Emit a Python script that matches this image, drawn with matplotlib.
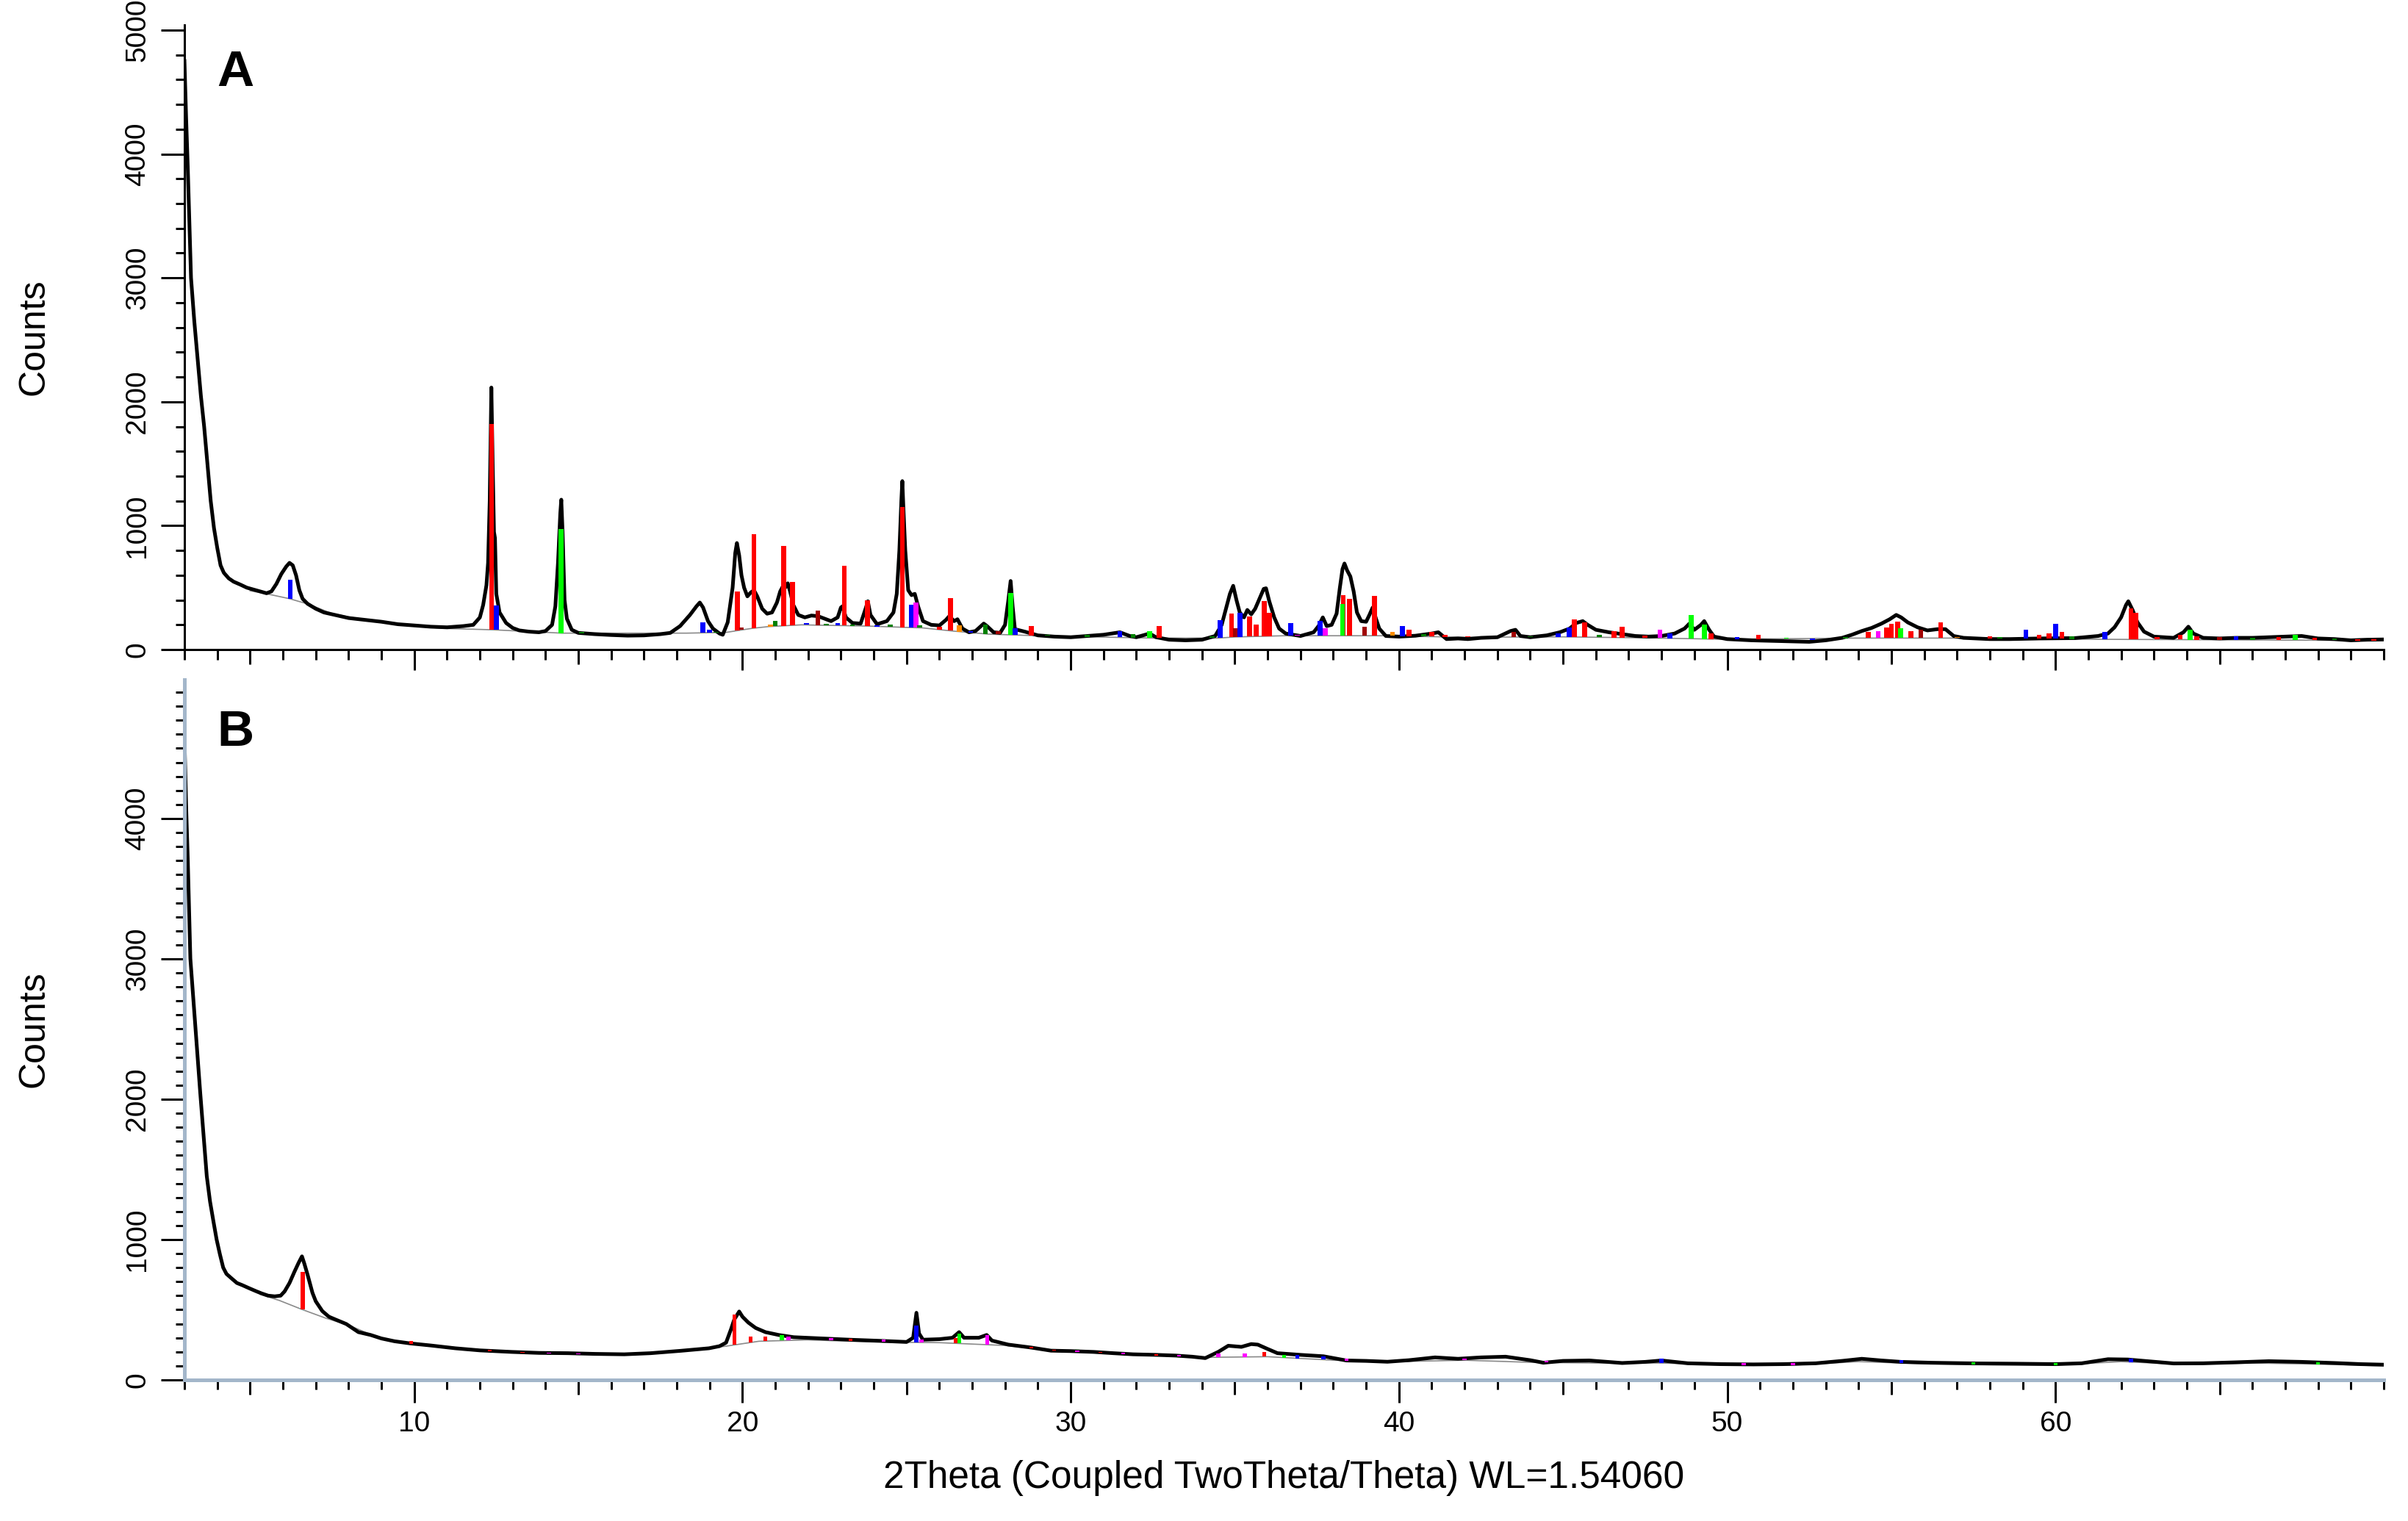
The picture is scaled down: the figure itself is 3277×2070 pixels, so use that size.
import numpy as np
import matplotlib
matplotlib.use("Agg")
import matplotlib.pyplot as plt

plt.rcParams['font.family'] = ['Liberation Sans', 'DejaVu Sans']

# --- Colours of the reference phase sticks ---
RED = '#ff0000'
BLUE = '#0000ff'
GREEN = '#00ff00'
DKGREEN = '#008000'
MAGENTA = '#ff00ff'
ORANGE = '#ff8c00'
DKRED = '#a00000'

top_trace = [
    (3.00, 4750), (3.05, 4300), (3.10, 3900), (3.20, 3000), (3.30, 2650), (3.40, 2350),
    (3.50, 2050), (3.60, 1800), (3.70, 1500), (3.80, 1200), (3.90, 980), (4.00, 820),
    (4.10, 680), (4.20, 620), (4.35, 575), (4.50, 548), (4.70, 525), (4.90, 500),
    (5.10, 485), (5.30, 470), (5.50, 455), (5.65, 470), (5.80, 530), (5.95, 610),
    (6.10, 670), (6.20, 700), (6.30, 680), (6.40, 600), (6.50, 480), (6.60, 410),
    (6.75, 370), (7.00, 330), (7.25, 300), (7.50, 285), (7.75, 270), (8.00, 255),
    (8.50, 240), (9.00, 225), (9.50, 205), (10.00, 195), (10.50, 185), (11.00, 180),
    (11.50, 190), (11.80, 200), (12.00, 260), (12.10, 360), (12.20, 520), (12.25, 700),
    (12.30, 1200), (12.35, 2115), (12.39, 1500), (12.43, 950), (12.46, 900), (12.50, 450),
    (12.60, 300), (12.80, 215), (13.00, 175), (13.20, 155), (13.50, 145), (13.80, 140),
    (14.00, 150), (14.20, 200), (14.30, 350), (14.38, 700), (14.45, 1100), (14.48, 1210),
    (14.52, 950), (14.58, 400), (14.65, 250), (14.80, 160), (15.00, 135), (15.50, 125),
    (16.00, 118), (16.50, 113), (17.00, 115), (17.50, 125), (17.80, 135), (18.10, 190),
    (18.40, 280), (18.60, 350), (18.70, 380), (18.80, 340), (18.95, 230), (19.10, 170),
    (19.30, 130), (19.40, 120), (19.55, 220), (19.70, 500), (19.78, 780), (19.83, 860),
    (19.90, 760), (19.97, 600), (20.05, 500), (20.15, 430), (20.25, 460), (20.35, 480),
    (20.45, 430), (20.60, 330), (20.75, 290), (20.90, 300), (21.05, 380), (21.15, 470),
    (21.25, 520), (21.30, 500), (21.38, 535), (21.45, 470), (21.55, 360), (21.70, 280),
    (21.90, 260), (22.10, 275), (22.30, 270), (22.50, 250), (22.70, 230), (22.90, 260),
    (23.00, 340), (23.05, 350), (23.15, 260), (23.35, 215), (23.60, 210), (23.75, 330),
    (23.82, 390), (23.90, 280), (24.10, 205), (24.40, 230), (24.60, 300), (24.70, 450),
    (24.78, 800), (24.84, 1200), (24.87, 1360), (24.91, 1100), (24.96, 800), (25.05, 480),
    (25.15, 440), (25.25, 450), (25.35, 350), (25.50, 230), (25.75, 200), (26.00, 195),
    (26.20, 240), (26.30, 270), (26.45, 230), (26.55, 245), (26.70, 170), (26.90, 140),
    (27.10, 150), (27.35, 210), (27.45, 190), (27.65, 140), (27.85, 135), (28.00, 200),
    (28.10, 400), (28.17, 554), (28.23, 350), (28.30, 165), (28.60, 145), (29.00, 115),
    (29.50, 105), (30.00, 100), (30.50, 110), (31.00, 120), (31.50, 140), (31.80, 110),
    (32.00, 100), (32.40, 130), (32.60, 100), (33.00, 80), (33.50, 75), (34.00, 80),
    (34.40, 110), (34.60, 200), (34.75, 350), (34.85, 450), (34.95, 515), (35.05, 400),
    (35.15, 300), (35.28, 260), (35.38, 320), (35.50, 285), (35.62, 330), (35.75, 410),
    (35.88, 490), (35.95, 495), (36.05, 390), (36.20, 260), (36.35, 170), (36.55, 130),
    (37.00, 110), (37.40, 140), (37.55, 190), (37.68, 260), (37.80, 190), (37.95, 200),
    (38.10, 290), (38.20, 500), (38.28, 650), (38.34, 695), (38.42, 640), (38.52, 590),
    (38.62, 470), (38.72, 300), (38.85, 230), (39.00, 225), (39.10, 280), (39.20, 340),
    (39.30, 250), (39.40, 170), (39.60, 110), (40.00, 105), (40.50, 112), (41.00, 130),
    (41.20, 140), (41.45, 85), (41.80, 90), (42.10, 85), (42.50, 95), (43.00, 100),
    (43.40, 150), (43.55, 160), (43.70, 110), (44.00, 100), (44.50, 115), (44.90, 140),
    (45.20, 170), (45.40, 215), (45.60, 230), (45.75, 200), (46.00, 160), (46.40, 140),
    (46.80, 125), (47.20, 110), (47.60, 105), (48.00, 110), (48.40, 130), (48.70, 170),
    (48.85, 210), (49.00, 160), (49.20, 200), (49.30, 230), (49.45, 160), (49.60, 105),
    (50.00, 85), (50.75, 75), (51.50, 70), (52.50, 63), (53.00, 75), (53.50, 95),
    (53.80, 120), (54.10, 150), (54.40, 175), (54.70, 210), (54.95, 245), (55.15, 280),
    (55.30, 260), (55.50, 220), (55.80, 180), (56.10, 155), (56.40, 165), (56.65, 165),
    (56.90, 110), (57.20, 95), (58.00, 85), (58.60, 85), (59.50, 90), (60.60, 93),
    (61.30, 110), (61.60, 130), (61.80, 180), (62.00, 260), (62.15, 360), (62.22, 390),
    (62.35, 320), (62.50, 220), (62.70, 145), (63.00, 105), (63.60, 95), (63.90, 140),
    (64.05, 185), (64.20, 130), (64.50, 95), (65.00, 90), (65.50, 95), (66.00, 95),
    (66.50, 100), (67.00, 105), (67.50, 110), (68.00, 90), (68.50, 85), (69.00, 75),
    (69.50, 80), (70.00, 82),
]

top_background = [
    (5.0, 475), (5.6, 445), (6.2, 411), (6.8, 365), (7.5, 290), (8.5, 240), (10.0, 195),
    (10.8, 172), (12.4, 160), (14.5, 133), (18.3, 133), (19.5, 139), (20.3, 172),
    (20.8, 186), (21.8, 200), (23.8, 190), (25.5, 175), (26.4, 150), (27.5, 125),
    (29.0, 112), (32.5, 93), (34.5, 93), (35.0, 102), (36.5, 112), (39.5, 112),
    (42.0, 100), (45.0, 103), (47.5, 95), (50.0, 83), (53.8, 93), (57.7, 93),
    (61.6, 83), (65.5, 79), (70.0, 73),
]

# sticks: (2theta, top counts, colour)
top_sticks = [
    (6.22, 565, BLUE), (12.36, 1823, RED), (12.50, 356, BLUE), (13.30, 150, DKGREEN),
    (14.47, 973, GREEN), (15.10, 145, DKGREEN), (18.80, 222, BLUE), (19.00, 160, BLUE),
    (19.20, 145, DKGREEN), (19.85, 469, RED), (19.97, 180, DKRED), (20.35, 934, RED),
    (20.85, 200, ORANGE), (21.00, 230, DKGREEN), (21.25, 839, RED), (21.52, 545, RED),
    (21.95, 215, BLUE), (22.30, 314, DKRED), (22.55, 210, DKGREEN), (22.90, 215, BLUE),
    (23.10, 678, RED), (23.35, 205, DKGREEN), (23.80, 400, RED), (24.10, 195, BLUE),
    (24.50, 200, DKGREEN), (24.87, 1150, RED), (25.15, 360, BLUE), (25.28, 380, MAGENTA),
    (25.40, 195, DKGREEN), (26.00, 185, RED), (26.33, 415, RED), (26.60, 199, ORANGE),
    (26.95, 150, BLUE), (27.40, 201, DKGREEN), (27.80, 150, DKRED), (28.17, 455, GREEN),
    (28.30, 170, BLUE), (28.80, 192, RED), (29.30, 120, DKGREEN), (30.50, 120, DKGREEN),
    (31.50, 150, BLUE), (31.90, 125, DKGREEN), (32.40, 150, GREEN), (32.70, 192, RED),
    (34.30, 110, DKGREEN), (34.55, 240, BLUE), (34.90, 290, RED), (35.02, 170, DKRED),
    (35.15, 300, BLUE), (35.45, 270, RED), (35.65, 200, RED), (35.90, 390, RED),
    (36.05, 300, RED), (36.70, 217, BLUE), (36.90, 120, MAGENTA), (37.60, 230, BLUE),
    (37.75, 170, MAGENTA), (38.30, 440, RED), (38.28, 370, GREEN), (38.50, 408, RED),
    (38.95, 182, DKRED), (39.25, 435, RED), (39.80, 140, ORANGE), (40.10, 190, BLUE),
    (40.30, 160, RED), (40.75, 125, DKGREEN), (41.00, 142, RED), (41.40, 120, RED),
    (42.10, 110, RED), (43.50, 140, DKRED), (44.00, 110, DKGREEN), (44.85, 130, BLUE),
    (45.18, 177, BLUE), (45.35, 241, RED), (45.65, 218, RED), (46.10, 120, DKGREEN),
    (46.55, 150, RED), (46.80, 186, RED), (47.50, 115, RED), (47.95, 162, MAGENTA),
    (48.25, 132, BLUE), (48.90, 277, GREEN), (49.30, 201, GREEN), (49.50, 130, RED),
    (50.30, 100, BLUE), (50.95, 122, RED), (51.80, 95, GREEN), (52.60, 80, BLUE),
    (53.60, 100, DKGREEN), (54.30, 140, RED), (54.60, 150, MAGENTA), (54.85, 180, RED),
    (55.00, 211, RED), (55.20, 225, RED), (55.28, 172, GREEN), (55.60, 150, RED),
    (55.90, 160, DKRED), (56.50, 221, RED), (57.00, 100, ORANGE), (58.00, 110, RED),
    (58.30, 100, DKGREEN), (59.10, 158, BLUE), (59.50, 120, RED), (59.80, 130, RED),
    (60.00, 211, BLUE), (60.20, 142, RED), (60.50, 110, DKGREEN), (61.50, 142, BLUE),
    (62.30, 330, RED), (62.45, 300, RED), (63.10, 100, RED), (63.80, 120, RED),
    (64.10, 162, GREEN), (64.30, 110, RED), (65.00, 100, DKRED), (65.50, 110, BLUE),
    (66.00, 95, DKGREEN), (66.80, 100, RED), (67.30, 120, GREEN), (67.90, 95, RED),
    (68.50, 90, DKGREEN), (69.20, 85, RED), (69.70, 82, RED),
]

# --- Panel B ---
bottom_trace = [
    (3.00, 4573), (3.05, 4100), (3.10, 3718), (3.18, 3002), (3.26, 2750), (3.33, 2525),
    (3.40, 2300), (3.48, 2048), (3.58, 1750), (3.68, 1451), (3.78, 1270), (3.88, 1133),
    (3.98, 1000), (4.08, 895), (4.18, 800), (4.28, 755), (4.45, 720), (4.60, 690),
    (4.75, 676), (5.00, 650), (5.20, 630), (5.35, 616), (5.55, 600), (5.75, 595),
    (5.93, 600), (6.05, 630), (6.20, 690), (6.35, 770), (6.48, 835), (6.58, 880),
    (6.65, 830), (6.75, 750), (6.90, 620), (7.00, 560), (7.20, 490), (7.40, 450),
    (7.60, 430), (7.93, 398), (8.30, 340), (8.67, 320), (9.00, 295), (9.40, 275),
    (9.87, 260), (10.50, 245), (11.25, 225), (12.00, 210), (12.97, 199), (13.80, 192),
    (14.68, 190), (15.50, 185), (16.40, 182), (17.20, 190), (18.12, 207), (18.98, 225),
    (19.30, 240), (19.50, 265), (19.65, 360), (19.75, 430), (19.90, 487), (20.00, 450),
    (20.18, 408), (20.40, 370), (20.70, 340), (21.10, 320), (21.56, 304), (22.40, 295),
    (23.27, 286), (24.20, 278), (25.00, 270), (25.20, 300), (25.30, 478), (25.38, 330),
    (25.50, 286), (26.00, 290), (26.40, 300), (26.60, 340), (26.75, 300), (27.20, 300),
    (27.44, 320), (27.60, 280), (28.10, 251), (28.80, 230), (29.40, 208), (30.00, 205),
    (30.70, 199), (31.30, 190), (31.90, 182), (32.60, 178), (33.20, 173), (33.70, 165),
    (34.10, 155), (34.50, 200), (34.80, 243), (35.20, 235), (35.50, 255), (35.70, 251),
    (36.00, 220), (36.30, 190), (37.00, 178), (37.70, 168), (38.40, 138), (39.00, 135),
    (39.65, 129), (40.30, 140), (41.10, 160), (41.80, 150), (42.50, 160), (43.25, 165),
    (44.00, 140), (44.40, 122), (45.00, 135), (45.80, 138), (46.80, 120), (47.50, 128),
    (48.00, 138), (48.80, 118), (49.80, 112), (50.80, 110), (51.70, 112), (52.70, 118),
    (53.50, 135), (54.10, 150), (54.70, 138), (55.30, 128), (56.20, 122), (57.60, 117),
    (58.80, 115), (60.00, 112), (60.80, 118), (61.60, 147), (62.20, 145), (62.80, 133),
    (63.60, 117), (64.50, 118), (65.50, 125), (66.50, 133), (67.50, 128), (68.50, 120),
    (69.30, 112), (70.00, 108),
]

bottom_background = [
    (5.3, 610), (5.9, 565), (6.6, 500), (7.3, 440), (8.0, 390), (9.0, 290), (10.0, 255),
    (12.0, 205), (14.0, 188), (16.0, 180), (18.0, 200), (19.5, 240), (20.5, 275),
    (22.0, 285), (24.0, 270), (26.0, 265), (28.0, 245), (30.0, 200), (32.0, 180),
    (34.0, 160), (36.0, 165), (38.0, 140), (40.0, 130), (42.0, 140), (44.0, 125),
    (46.0, 120), (48.0, 120), (50.0, 105), (52.0, 105), (54.0, 130), (56.0, 115),
    (58.0, 108), (60.0, 105), (62.0, 130), (64.0, 110), (66.0, 120), (68.0, 112),
    (70.0, 100),
]

bottom_sticks = [
    (6.60, 767, RED), (9.90, 275, RED), (12.30, 215, RED), (13.30, 200, RED),
    (14.10, 195, MAGENTA), (15.00, 190, MAGENTA), (19.75, 466, RED), (20.25, 310, RED),
    (20.70, 310, RED), (21.20, 320, GREEN), (21.40, 310, MAGENTA), (22.70, 300, MAGENTA),
    (23.30, 295, RED), (24.30, 290, MAGENTA), (25.30, 387, BLUE), (25.45, 285, MAGENTA),
    (26.50, 300, RED), (26.60, 330, GREEN), (27.45, 320, MAGENTA), (28.80, 235, RED),
    (29.50, 215, RED), (30.20, 210, MAGENTA), (30.90, 200, RED), (31.60, 195, MAGENTA),
    (32.60, 185, RED), (33.30, 175, MAGENTA), (34.50, 190, MAGENTA), (35.30, 190, MAGENTA),
    (35.90, 200, RED), (36.50, 180, GREEN), (36.90, 175, BLUE), (37.70, 165, BLUE),
    (38.40, 150, MAGENTA), (42.00, 150, MAGENTA), (44.50, 135, MAGENTA), (48.00, 150, BLUE),
    (50.50, 120, MAGENTA), (52.00, 120, MAGENTA), (55.30, 140, BLUE), (57.50, 125, GREEN),
    (60.00, 118, GREEN), (62.30, 150, BLUE), (68.00, 125, GREEN),
]

x_range = (3, 70)
x_major = np.arange(5, 70, 5)
x_minor = np.arange(3, 71, 1)
PX = 1 / 1.389  # pixel -> point at dpi 100

fig = plt.figure(figsize=(32.77, 20.7), dpi=100)
ax_a = fig.add_axes([0.0766, 0.5729, 0.9133, 0.4106])
ax_b = fig.add_axes([0.0766, 0.0928, 0.9133, 0.4604])


def draw_panel(ax, trace, background, sticks, stick_w):
    tx, ty = np.array(trace).T
    bx, by = np.array(background).T
    ax.plot(bx, by, color='#8a8a8a', lw=1.2, zorder=1)
    ax.plot(tx, ty, color='black', lw=3.6, zorder=2)
    pos = np.array([s[0] for s in sticks])
    top = np.array([s[1] for s in sticks])
    cols = [s[2] for s in sticks]
    base = np.interp(pos, bx, by)
    ax.bar(pos, top - base, bottom=base, width=stick_w, color=cols,
           linewidth=0, zorder=3)


draw_panel(ax_a, top_trace, top_background, top_sticks, 0.15)
draw_panel(ax_b, bottom_trace, bottom_background, bottom_sticks, 0.12)


def style_axes(ax, ylim, yminor, spine_col, spine_w, show_xlabels, len10, len5, len1):
    ax.set_xlim(*x_range)
    ax.set_ylim(*ylim)
    for s in ('top', 'right'):
        ax.spines[s].set_visible(False)
    for s in ('left', 'bottom'):
        ax.spines[s].set_color(spine_col)
        ax.spines[s].set_linewidth(spine_w)
    ax.set_yticks(np.arange(0, ylim[1] + 1, 1000))
    ax.set_yticks(np.arange(0, ylim[1] + 1, yminor), minor=True)
    ax.tick_params(axis='y', which='major', length=32 * PX, width=3 * PX,
                   labelsize=28, pad=10, labelrotation=90)
    ax.tick_params(axis='y', which='minor', length=12 * PX, width=3 * PX)
    for lab in ax.get_yticklabels():
        lab.set_va('center')
    ax.set_xticks(x_major)
    ax.set_xticks(x_minor, minor=True)
    if show_xlabels:
        ax.set_xticklabels([str(v) if v % 10 == 0 else '' for v in x_major])
    else:
        ax.set_xticklabels([''] * len(x_major))
    ax.tick_params(axis='x', which='major', length=len10 * PX, width=3 * PX,
                   labelsize=28, pad=8)
    ax.tick_params(axis='x', which='minor', length=len1 * PX, width=3 * PX)
    for v, tick in zip(x_major, ax.xaxis.get_major_ticks()):
        if v % 10 != 0:
            tick.tick1line.set_markersize(len5 * PX)


style_axes(ax_a, (0, 5040), 200, 'black', 3 * PX, False, 28, 20, 14)
style_axes(ax_b, (0, 4990), 100, '#a3b6ca', 5 * PX, True, 31, 20, 13)

fig.text(46 / 3277, 1 - 459 / 2070, 'Counts', rotation=90, ha='center', va='center', fontsize=36)
fig.text(46 / 3277, 1 - 1401 / 2070, 'Counts', rotation=90, ha='center', va='center', fontsize=36)
fig.text(295 / 3277, 1 - 117 / 2070, 'A', fontsize=50, fontweight='bold', ha='left', va='baseline')
fig.text(295 / 3277, 1 - 1015 / 2070, 'B', fontsize=50, fontweight='bold', ha='left', va='baseline')
fig.text(1747 / 3277, 1 - 2025 / 2070, '2Theta (Coupled TwoTheta/Theta) WL=1.54060',
         ha='center', va='baseline', fontsize=37)

fig.savefig('out.png', dpi=100)
